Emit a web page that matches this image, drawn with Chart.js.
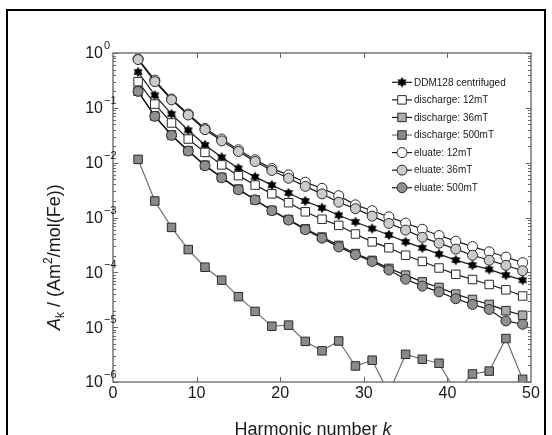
<!DOCTYPE html>
<html><head><meta charset="utf-8">
<script src="https://cdn.jsdelivr.net/npm/chart.js@4/dist/chart.umd.min.js"></script>
<style>
html,body{margin:0;padding:0;background:#fff;overflow:hidden;}
#wrap{position:relative;width:552px;height:435px;overflow:hidden;}
#frame{position:absolute;left:6px;top:9px;width:540px;height:600px;border:2px solid #000;box-sizing:border-box;pointer-events:none;}
canvas{position:absolute;left:0;top:0;}
</style></head><body>
<div id="wrap"><canvas id="c" width="552" height="435"></canvas><div id="frame"></div></div>
<script>
const harmonics = [3,5,7,9,11,13,15,17,19,21,23,25,27,29,31,33,35,37,39,41,43,45,47,49];
const ddm128 = [0.45,0.17,0.077,0.039,0.021,0.0125,0.0079,0.0055,0.0039,0.0028,0.0020,0.0015,0.0011,8.3e-4,6.3e-4,4.8e-4,3.6e-4,2.8e-4,2.15e-4,1.67e-4,1.35e-4,1.13e-4,8.9e-5,7.2e-5];
const discharge12 = [0.30,0.117,0.053,0.027,0.0154,0.0091,0.0058,0.0039,0.0027,0.00186,0.00127,9.3e-4,7.2e-4,5.0e-4,3.6e-4,2.8e-4,2.05e-4,1.58e-4,1.2e-4,9.2e-5,7.4e-5,6.0e-5,4.8e-5,3.7e-5];
const discharge36 = [0.20,0.071,0.032,0.0165,0.009,0.0054,0.0033,0.0021,0.00135,9.2e-4,6.2e-4,4.4e-4,3.1e-4,2.2e-4,1.65e-4,1.18e-4,8.9e-5,6.7e-5,5.3e-5,4.0e-5,3.2e-5,2.6e-5,2.0e-5,1.65e-5];
const discharge500 = [0.0115,2.0e-3,6.6e-4,2.6e-4,1.24e-4,7.2e-5,3.6e-5,1.94e-5,1.04e-5,1.09e-5,5.5e-6,3.7e-6,5.6e-6,1.96e-6,2.5e-6,6.3e-7,3.2e-6,2.6e-6,2.2e-6,6.6e-7,1.4e-6,1.58e-6,6.2e-6,1.12e-6];
const eluate12 = [0.78,0.32,0.145,0.077,0.042,0.027,0.0172,0.0113,0.0078,0.0060,0.0044,0.0034,0.0025,0.0017,0.00133,0.00103,7.9e-4,6.1e-4,4.7e-4,3.7e-4,2.95e-4,2.37e-4,1.9e-4,1.5e-4];
const eluate36 = [0.76,0.30,0.14,0.074,0.040,0.025,0.016,0.0105,0.0072,0.0052,0.0037,0.0027,0.0019,0.00145,0.00106,7.8e-4,5.9e-4,4.35e-4,3.4e-4,2.65e-4,2.05e-4,1.66e-4,1.34e-4,1.07e-4];
const eluate500 = [0.20,0.070,0.0315,0.0163,0.0088,0.0053,0.0032,0.0021,0.00133,9.0e-4,6.0e-4,4.2e-4,2.9e-4,2.1e-4,1.58e-4,1.1e-4,7.5e-5,5.6e-5,4.4e-5,3.3e-5,2.6e-5,2.1e-5,1.3e-5,1.13e-5];
const seriesLabels = ['DDM128 centrifuged','discharge: 12mT','discharge: 36mT','discharge: 500mT','eluate: 12mT','eluate: 36mT','eluate: 500mT'];
const xTickValues = [0,10,20,30,40,50];
const yTickExponents = [0,-1,-2,-3,-4,-5,-6];
const xTitle = 'Harmonic number ';
const xTitleItalic = 'k';

// hexagram marker
function makeStar(){
  const c = document.createElement('canvas'); c.width = 12; c.height = 12;
  const g = c.getContext('2d');
  g.beginPath();
  const R = 4.8, r = R/Math.sqrt(3)*1.05;
  for(let i=0;i<12;i++){
    const ang = -Math.PI/2 + i*Math.PI/6;
    const rr = i%2===0 ? R : r;
    const px = 6 + rr*Math.cos(ang), py = 6 + rr*Math.sin(ang);
    if(i===0) g.moveTo(px,py); else g.lineTo(px,py);
  }
  g.closePath(); g.fillStyle = '#000'; g.fill();
  g.strokeStyle='#000'; g.lineWidth=0.5; g.stroke();
  return c;
}
const star = makeStar();

const pts = arr => harmonics.map((k,i)=>({x:k, y:arr[i]}));
const styles = [
  {data:ddm128, pointStyle:star, radius:5, bg:'#000', line:'#1a1a1a'},
  {data:discharge12, pointStyle:'rect', radius:6, bg:'#ffffff', line:'#1a1a1a'},
  {data:discharge36, pointStyle:'rect', radius:6, bg:'#ababab', line:'#1a1a1a'},
  {data:discharge500, pointStyle:'rect', radius:6, bg:'#8a8a8a', line:'#707070'},
  {data:eluate12, pointStyle:'circle', radius:5, bg:'#ffffff', line:'#1a1a1a'},
  {data:eluate36, pointStyle:'circle', radius:5, bg:'#cbcbcb', line:'#1a1a1a'},
  {data:eluate500, pointStyle:'circle', radius:5, bg:'#8f8f8f', line:'#1a1a1a'}
];
const datasets = styles.map((s,i)=>({
  label: seriesLabels[i],
  data: pts(s.data),
  borderColor: s.line,
  borderWidth: 1.2,
  pointStyle: s.pointStyle,
  pointRadius: s.radius,
  pointBackgroundColor: s.bg,
  pointBorderColor: '#2a2a2a',
  pointBorderWidth: 1,
  tension: 0,
  order: 10 - i
}));

const FONT = '"Liberation Sans", Arial, Helvetica, sans-serif';
const decor = {
  id:'decor',
  afterDatasetsDraw(chart){
    const {ctx, chartArea:a, scales:{x,y}} = chart;
    ctx.save();
    ctx.strokeStyle = '#777'; ctx.lineWidth = 1.5;
    ctx.strokeRect(a.left, a.top, a.right-a.left, a.bottom-a.top);
    ctx.lineWidth = 1; ctx.strokeStyle = '#666';
    const ln=(x1,y1,x2,y2)=>{ctx.beginPath();ctx.moveTo(x1,y1);ctx.lineTo(x2,y2);ctx.stroke();};
    xTickValues.forEach(v=>{
      if(v<=x.min||v>=x.max) return;
      const px = Math.round(x.getPixelForValue(v))+0.5;
      ln(px,a.bottom,px,a.bottom-5); ln(px,a.top,px,a.top+5);
    });
    yTickExponents.forEach(e=>{
      for(let m=1;m<=9;m++){
        const v = m*Math.pow(10,e);
        if(v>y.max*1.0001) break;
        const py = Math.round(y.getPixelForValue(v))+0.5;
        const len = m===1?5:3;
        ln(a.left,py,a.left+len,py); ln(a.right,py,a.right-len,py);
      }
    });
    // x tick labels
    ctx.fillStyle = '#1a1a1a';
    ctx.font = '16px '+FONT; ctx.textAlign='center'; ctx.textBaseline='top';
    xTickValues.forEach(v=>{ ctx.fillText(String(v), x.getPixelForValue(v), a.bottom+4); });
    // y tick labels
    yTickExponents.forEach(e=>{
      const py = y.getPixelForValue(Math.pow(10,e));
      ctx.font = '16px '+FONT; ctx.textAlign='right'; ctx.textBaseline='middle';
      ctx.fillText('10', a.left-10, py+1);
      ctx.font = '11px '+FONT; ctx.textAlign='left';
      ctx.fillText(String(e).replace('-','\u2212'), a.left-9, py-7);
    });
    // x title
    ctx.textBaseline='alphabetic';
    ctx.font = '18px '+FONT;
    const w1 = ctx.measureText(xTitle).width;
    ctx.font = 'italic 18px '+FONT;
    const w2 = ctx.measureText(xTitleItalic).width;
    let sx = 313 - (w1+w2)/2;
    ctx.textAlign='left';
    ctx.font = '18px '+FONT; ctx.fillText(xTitle, sx, 435);
    ctx.font = 'italic 18px '+FONT; ctx.fillText(xTitleItalic, sx+w1, 435);
    // y title
    ctx.save();
    ctx.translate(60, 330); ctx.rotate(-Math.PI/2);
    const parts = [['A','italic 18px',0],['k','12px',4],[' / (Am','18px',0],['2','12px',-8],['/mol(Fe))','18px',0]];
    let cx = 0;
    parts.forEach(p=>{ ctx.font = p[1]+' '+FONT; ctx.fillText(p[0], cx, p[2]); cx += ctx.measureText(p[0]).width; });
    ctx.restore();
    // legend
    const rowY0 = 82.3, rowDy = 17.57;
    chart.data.datasets.forEach((ds,i)=>{
      const ry = rowY0 + i*rowDy;
      ctx.strokeStyle = ds.borderColor; ctx.lineWidth = 1.2;
      ln(392, ry, 412, ry);
      ctx.fillStyle = ds.pointBackgroundColor; ctx.strokeStyle = ds.pointBorderColor; ctx.lineWidth = 1;
      Chart.helpers.drawPoint(ctx, {pointStyle: ds.pointStyle, rotation:0, radius: ds.pointRadius, borderWidth:1}, 402, ry);
      ctx.fillStyle = '#1a1a1a'; ctx.font = '10px '+FONT; ctx.textAlign='left'; ctx.textBaseline='middle';
      ctx.fillText(ds.label, 414, ry+0.5);
    });
    ctx.restore();
  }
};

new Chart(document.getElementById('c'), {
  type:'line',
  data:{datasets},
  options:{
    responsive:false, animation:false, devicePixelRatio:1,
    layout:{padding:{top:53, right:21, left:0, bottom:0}},
    plugins:{legend:{display:false}, tooltip:{enabled:false}},
    scales:{
      x:{type:'linear', min:0, max:50, grid:{display:false}, border:{display:false},
         ticks:{display:false}, afterFit(s){ s.height = 53; }},
      y:{type:'logarithmic', min:1e-6, max:1, grid:{display:false}, border:{display:false},
         ticks:{display:false}, afterFit(s){ s.width = 113; }}
    }
  },
  plugins:[decor]
});
</script>
</body></html>
